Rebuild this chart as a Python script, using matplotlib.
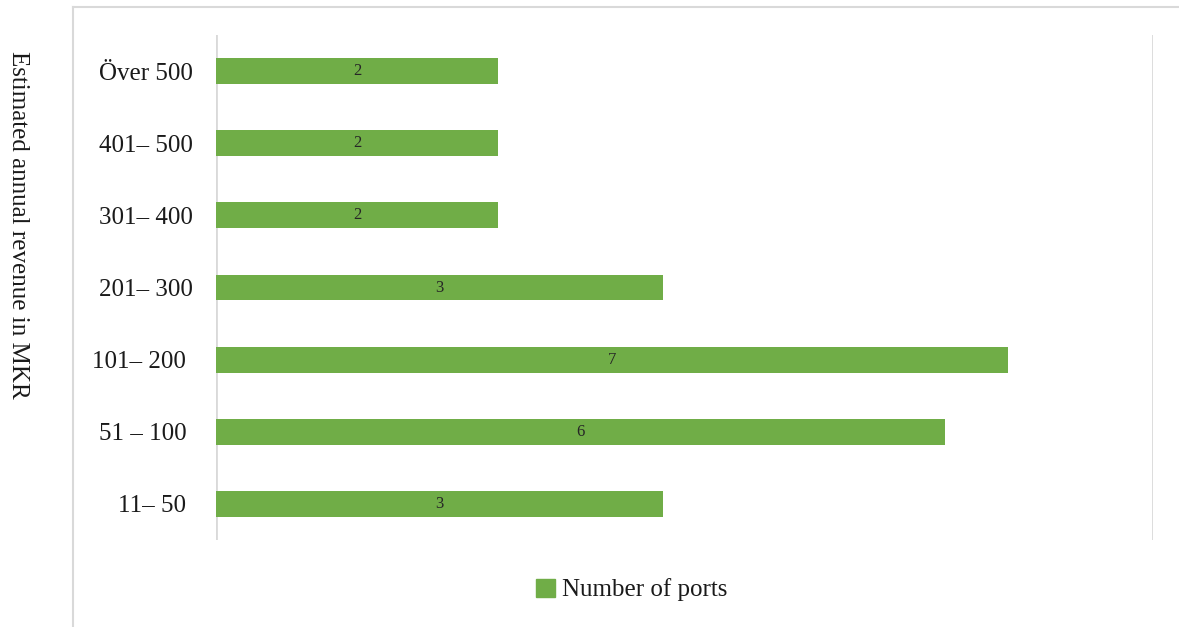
import matplotlib.pyplot as plt
from matplotlib.lines import Line2D
from matplotlib.patches import Patch
import numpy as np

# data, bottom to top
categories = ["11\u2013 50 ", "51 \u2013 100 ", "101\u2013 200 ", "201\u2013 300",
              "301\u2013 400", "401\u2013 500", "\u00d6ver 500"]
ports = [3, 6, 7, 3, 2, 2, 2]

GREEN = "#70AD47"
GRID = "#D9D9D9"
plt.rcParams['font.family'] = ['Liberation Serif', 'DejaVu Serif']

W, H = 1179, 627
fig = plt.figure(figsize=(W / 100, H / 100), dpi=100)
ax = fig.add_axes([216 / W, 1 - 540 / H, (1153 - 216) / W, (540 - 35) / H])

y = np.arange(len(categories))
# value axis is logarithmic, starting at 1
ax.barh(y, [v - 1 for v in ports], left=1, height=0.36, color=GREEN, zorder=2)
ax.set_xscale('log')
ax.set_xlim(1, 10)
ax.set_ylim(-0.5, len(categories) - 0.5)

for yi, v in zip(y, ports):
    ax.text(np.sqrt(v), yi, str(v), ha='center', va='center', fontsize=12, color='#262626', zorder=3)

ax.set_xticks([1, 10])
ax.set_xticklabels([])
ax.xaxis.set_minor_locator(plt.NullLocator())
ax.tick_params(axis='x', length=0)
ax.grid(axis='x', color=GRID, lw=2, zorder=0)
ax.set_yticks(y)
ax.set_yticklabels(categories, fontsize=18, color='#1a1a1a')
ax.tick_params(axis='y', length=0, pad=17)
for s in ax.spines.values():
    s.set_visible(False)

fig.text(18 / W, 1 - 225 / H, "Estimated annual revenue in MKR", rotation=270,
         ha='center', va='center', fontsize=18, color='#1a1a1a')

# outer chart frame (only left and top edges visible)
fig.add_artist(Line2D([73 / W, 73 / W], [0, 1 - 7 / H], color=GRID, lw=1.5, transform=fig.transFigure))
fig.add_artist(Line2D([73 / W, 1], [1 - 7 / H, 1 - 7 / H], color=GRID, lw=1.5, transform=fig.transFigure))

fig.legend(handles=[Patch(color=GREEN, label="Number of ports")], loc='center',
           bbox_to_anchor=(632 / W, 1 - 590 / H), frameon=False, fontsize=18,
           handlelength=0.75, handleheight=0.75, handletextpad=0.3, labelcolor='#1a1a1a')

fig.savefig("out.png", dpi=100)
